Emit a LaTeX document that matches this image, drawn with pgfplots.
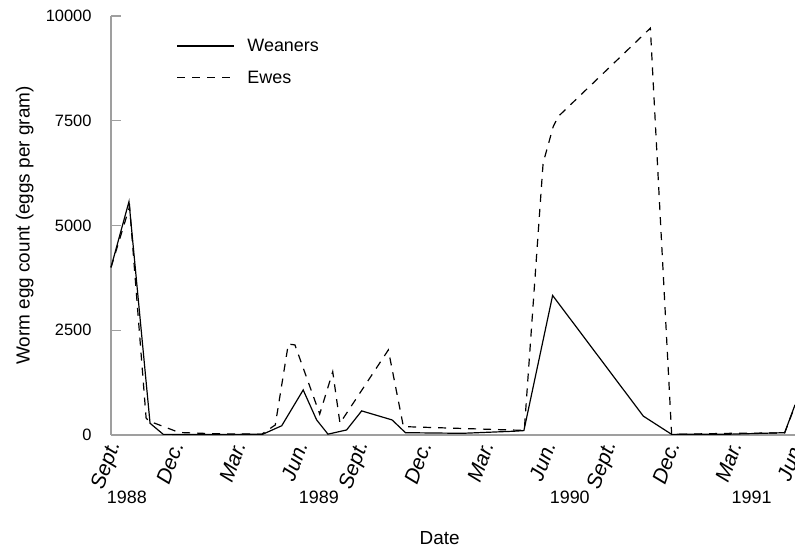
\documentclass[border=0pt]{standalone}
\usepackage{fontspec}
\setmainfont{Liberation Sans}
\usepackage{pgfplots}
\pgfplotsset{compat=1.18}
\begin{document}
\begin{tikzpicture}[x=1bp,y=1bp]
\useasboundingbox (0,0) rectangle (795,548);
\begin{axis}[
  at={(111bp,113bp)}, anchor=south west,
  scale only axis, width=684bp, height=419bp,
  xmin=0, xmax=33.1, ymin=0, ymax=10000,
  axis lines=left,
  axis line style={-, draw=gray!75, line width=1.1pt},
  clip=false,
  ytick={0,2500,5000,7500,10000},
  scaled y ticks=false,
  /pgf/number format/1000 sep={},
  /pgf/number format/assume math mode=true,
  ytick style={draw=gray!75, line width=1.1pt},
  tick align=inside, major tick length=10bp,
  y tick label style={font=\fontsize{16.5}{19}\selectfont, xshift=-16bp},
  xtick={0,3,...,33},
  xticklabels={Sept.,Dec.,Mar.,Jun.,Sept.,Dec.,Mar.,Jun.,Sept.,Dec.,Mar.,Jun.},
  xtick style={draw=none},
  x tick label style={font=\fontsize{21}{23}\selectfont\itshape, rotate=70, anchor=east, yshift=-7bp, xshift=-2bp},
  ylabel={Worm egg count (eggs per gram)},
  ylabel style={at={(axis description cs:-0.126,0.5)}, anchor=center, font=\fontsize{19}{21}\selectfont},
  legend style={draw=none, fill=none, at={(0.096,0.95)}, anchor=north west,
    font=\fontsize{18}{21}\selectfont, row sep=14bp, inner sep=0pt},
  legend cell align=left,
  legend image code/.code={\path[draw=none] (0bp,0bp) -- (68bp,0bp); \draw[#1] (0bp,0bp) -- (57bp,0bp);},
]
\addplot[black, line width=1.2pt] coordinates {
(0,4000) (0.87,5570) (1.89,280) (2.53,15) (5,10) (7.35,20) (8.26,220)
(9.3,1075) (9.95,360) (10.5,20) (11.4,120) (12.13,575) (13.6,360)
(14.25,55) (17,40) (19.5,90) (19.98,105) (21.37,3330) (25.76,450)
(27.13,15) (30,20) (32.6,55) (33.1,720)
};
\addlegendentry{Weaners}
\addplot[black, line width=1.2pt, dash pattern=on 8bp off 7bp] coordinates {
(0,4000) (0.9,5450) (1.7,400) (1.85,330) (3.3,60) (5,30) (7.3,20)
(7.95,240) (8.58,2170) (8.9,2150) (10.1,500) (10.73,1510) (11.08,280)
(13.42,2030) (14.15,200) (19.95,110) (20.0,120) (20.91,6490) (21.4,7360)
(21.64,7600) (26.1,9710) (27.13,15) (30,40) (32.6,50) (33.1,700)
};
\addlegendentry{Ewes}
\node[font=\fontsize{18}{20}\selectfont] at (axis cs:0.77,0) [yshift=-62bp] {1988};
\node[font=\fontsize{18}{20}\selectfont] at (axis cs:10.06,0) [yshift=-62bp] {1989};
\node[font=\fontsize{18}{20}\selectfont] at (axis cs:22.2,0) [yshift=-62bp] {1990};
\node[font=\fontsize{18}{20}\selectfont] at (axis cs:31.0,0) [yshift=-62bp] {1991};
\node[font=\fontsize{19}{21}\selectfont] at (axis cs:15.9,0) [yshift=-103bp] {Date};
\end{axis}
\end{tikzpicture}
\end{document}
